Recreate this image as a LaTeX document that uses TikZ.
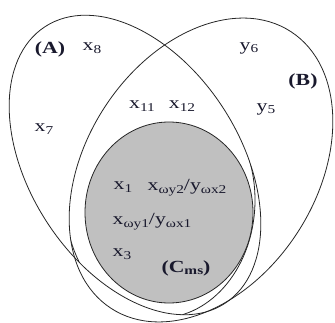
\documentclass[tikz,border=0pt]{standalone}
\usepackage{fontspec}
\usepackage{graphicx}
\setmainfont{Liberation Serif}
\definecolor{txt}{RGB}{25,25,45}
\definecolor{cfill}{RGB}{192,192,192}
\newcommand{\wx}[1]{\scalebox{1.28}[1]{#1}}
\newcommand{\sbs}[1]{\raisebox{-0.35ex}{\fontsize{12}{12}\selectfont #1}}
\tikzset{
  lbl/.style={text=txt, inner sep=0pt, font=\fontsize{17}{17}\selectfont},
  outl/.style={draw=black!85, line width=0.8pt}
}
\begin{document}
\begin{tikzpicture}[x=1pt,y=1pt]
\useasboundingbox (0,0) rectangle (335,322);
% ellipse A
\draw[outl, rotate around={-57:(135,157)}] (135,157) ellipse [x radius=165pt, y radius=105pt];
% ellipse B
\draw[outl, rotate around={57:(201,152)}] (201,152) ellipse [x radius=165pt, y radius=115pt];
% extra outline around C, kept inside A and B
\begin{scope}
  \clip[rotate around={-57:(135,157)}] (135,157) ellipse [x radius=165pt, y radius=105pt];
  \clip[rotate around={57:(201,152)}] (201,152) ellipse [x radius=165pt, y radius=115pt];
  \clip (0,0) rectangle (335,182);
  \draw[outl] (160,122) ellipse [x radius=95pt, y radius=118pt];
\end{scope}
% gray C
\draw[outl, fill=cfill] (169,109.5) ellipse [x radius=84pt, y radius=90.5pt];
% labels
\node[lbl] (lA) at (50,273) {\wx{\textbf{(A)}}};
\node[lbl] (lB) at (303,241) {\wx{\textbf{(B)}}};
\node[lbl] (x8) at (92,274) {\wx{x\sbs{8}}};
\node[lbl] (y6) at (249,274) {\wx{y\sbs{6}}};
\node[lbl] (x11) at (142,216) {\wx{x\sbs{11}}};
\node[lbl] (x12) at (182,216) {\wx{x\sbs{12}}};
\node[lbl] (y5) at (266,213) {\wx{y\sbs{5}}};
\node[lbl] (x7) at (44,193) {\wx{x\sbs{7}}};
\node[lbl] (x1) at (123,135) {\wx{x\sbs{1}}};
\node[lbl] (x2) at (187,134) {\wx{x\sbs{ωy2}/y\sbs{ωx2}}};
\node[lbl] (xy1) at (152,100) {\wx{x\sbs{ωy1}/y\sbs{ωx1}}};
\node[lbl] (x3) at (122,68) {\wx{x\sbs{3}}};
\node[lbl] (cms) at (186,54) {\wx{\textbf{(C\sbs{ms})}}};
\end{tikzpicture}
\end{document}
